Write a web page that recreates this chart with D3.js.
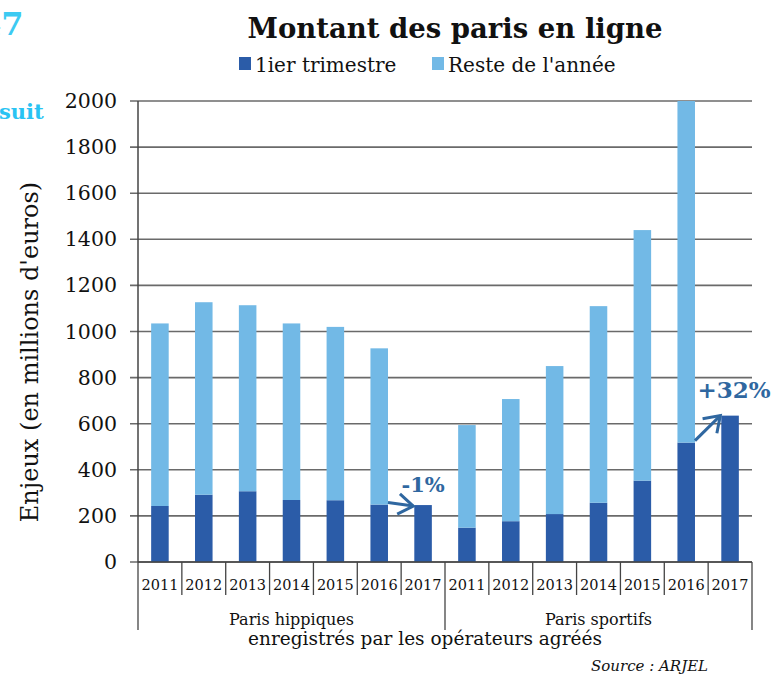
<!DOCTYPE html>
<html><head><meta charset="utf-8">
<script src="https://cdn.jsdelivr.net/npm/d3@7"></script>
<style>body{margin:0;background:#fff}svg{display:block}</style>
</head><body>
<svg id="c" width="771" height="674"></svg>
<script>
const groups = ["Paris hippiques", "Paris sportifs"];
const years = ["2011","2012","2013","2014","2015","2016","2017"];
const q1Hippiques   = [243, 292, 307, 269, 268, 249, 247];
const restHippiques = [792, 835, 807, 766, 752, 678, 0];
const q1Sportifs    = [149, 177, 208, 257, 353, 518, 635];
const restSportifs  = [445, 530, 642, 853, 1087, 1482, 0];
const yTicks = [0,200,400,600,800,1000,1200,1400,1600,1800,2000];
const seriesNames = ["1ier trimestre", "Reste de l'année"];
const annotations = [{group:"Paris hippiques", text:"-1%"}, {group:"Paris sportifs", text:"+32%"}];

const DARK = "#2b5ca8", LIGHT = "#72b9e6", ANN = "#2f67a0";
const FONT = "DejaVu Serif";

const rows = [];
groups.forEach((g, gi) => {
  const q = gi === 0 ? q1Hippiques : q1Sportifs;
  const r = gi === 0 ? restHippiques : restSportifs;
  years.forEach((y, i) => rows.push({key: g + "|" + y, group: g, year: y, q1: q[i], rest: r[i]}));
});

const svg = d3.select("#c");
const L = 138, R = 752, T = 101, B = 562;
const x = d3.scaleBand().domain(rows.map(d => d.key)).range([L, R]).paddingInner(0.6).paddingOuter(0.3);
const y = d3.scaleLinear().domain([0, 2000]).range([B, T]);

// gridlines
svg.append("g").selectAll("line").data(yTicks).join("line")
  .attr("x1", L - 8).attr("x2", R).attr("y1", d => y(d)).attr("y2", d => y(d))
  .attr("stroke", "#6a6a6a").attr("stroke-width", 1.6);

// y axis labels
svg.append("g").selectAll("text").data(yTicks).join("text")
  .attr("x", 117).attr("y", d => y(d) + 7).attr("text-anchor", "end")
  .attr("font-family", FONT).attr("font-size", 20.5).attr("fill", "#111").text(d => d);

// stacked bars
const stack = d3.stack().keys(["q1", "rest"])(rows);
const colors = [DARK, LIGHT];
stack.forEach((layer, li) => {
  svg.append("g").selectAll("rect").data(layer.filter(d => d[1] > d[0])).join("rect")
    .attr("x", d => x(d.data.key)).attr("width", x.bandwidth())
    .attr("y", d => y(d[1])).attr("height", d => y(d[0]) - y(d[1]))
    .attr("fill", colors[li]);
});

// axes lines
svg.append("line").attr("x1", L).attr("x2", L).attr("y1", T).attr("y2", B).attr("stroke", "#444").attr("stroke-width", 1.5);
svg.append("line").attr("x1", L).attr("x2", R).attr("y1", B).attr("y2", B).attr("stroke", "#444").attr("stroke-width", 1.6);

// category ticks
const step = x.step();
const bounds = d3.range(rows.length + 1).map(i => L + i * step);
svg.append("g").selectAll("line").data(bounds).join("line")
  .attr("x1", d => d).attr("x2", d => d).attr("y1", B)
  .attr("y2", (d, i) => (i % years.length === 0) ? 630 : 595)
  .attr("stroke", "#444").attr("stroke-width", 1.3);

// year labels
svg.append("g").selectAll("text").data(rows).join("text")
  .attr("x", d => x(d.key) + x.bandwidth() / 2).attr("y", 590).attr("text-anchor", "middle")
  .attr("font-family", FONT).attr("font-size", 14.5).attr("fill", "#111").text(d => d.year);

// group labels
svg.append("g").selectAll("text").data(groups).join("text")
  .attr("x", (d, i) => L + (i + 0.5) * years.length * step).attr("y", 625).attr("text-anchor", "middle")
  .attr("font-family", FONT).attr("font-size", 16).attr("fill", "#111").text(d => d);

svg.append("text").attr("x", 425).attr("y", 645).attr("text-anchor", "middle")
  .attr("font-family", FONT).attr("font-size", 18.5).attr("fill", "#111")
  .text("enregistrés par les opérateurs agréés");

// y label
svg.append("text").attr("transform", "translate(38,352) rotate(-90)").attr("text-anchor", "middle")
  .attr("font-family", FONT).attr("font-size", 24).attr("fill", "#111")
  .text("Enjeux (en millions d'euros)");

// title
svg.append("text").attr("x", 455).attr("y", 38).attr("text-anchor", "middle")
  .attr("font-family", FONT).attr("font-weight", "bold").attr("font-size", 27.5).attr("fill", "#111")
  .text("Montant des paris en ligne");

// legend
const legX = [239, 432];
seriesNames.forEach((n, i) => {
  svg.append("rect").attr("x", legX[i]).attr("y", 57).attr("width", 12).attr("height", 13).attr("fill", colors[i]);
  svg.append("text").attr("x", legX[i] + 16).attr("y", 72).attr("font-family", FONT).attr("font-size", 20)
    .attr("fill", "#111").text(n);
});

// annotations with arrows
annotations.forEach(a => {
  const r16 = rows.find(d => d.group === a.group && d.year === "2016");
  const r17 = rows.find(d => d.group === a.group && d.year === "2017");
  const x0 = x(r16.key) + x.bandwidth(), y0 = y(r16.q1) - 2;
  const x1 = x(r17.key) - 1, y1 = y(r17.q1) + (r17.q1 < r16.q1 ? 1 : 0);
  const ang = Math.atan2(y1 - y0, x1 - x0);
  const hl = 18, ha = 0.6;
  svg.append("line").attr("x1", x0).attr("y1", y0).attr("x2", x1).attr("y2", y1)
    .attr("stroke", ANN).attr("stroke-width", 3);
  svg.append("path")
    .attr("d", `M${x1 - hl * Math.cos(ang - ha)},${y1 - hl * Math.sin(ang - ha)}L${x1},${y1}L${x1 - hl * Math.cos(ang + ha)},${y1 - hl * Math.sin(ang + ha)}`)
    .attr("fill", "none").attr("stroke", ANN).attr("stroke-width", 3).attr("stroke-linejoin", "miter");
  const big = r17.q1 > r16.q1;
  svg.append("text").attr("x", x(r17.key) + x.bandwidth() / 2 + (big ? 4 : 0))
    .attr("y", big ? 398 : 492).attr("text-anchor", "middle")
    .attr("font-family", FONT).attr("font-weight", "bold").attr("font-size", big ? 23 : 21)
    .attr("fill", ANN).text(a.text);
});

// source
svg.append("text").attr("x", 591).attr("y", 671).attr("font-family", FONT).attr("font-style", "italic")
  .attr("font-size", 15).attr("fill", "#111").text("Source : ARJEL");

// cropped page remnants
svg.append("text").attr("x", -21).attr("y", 35).attr("font-family", FONT).attr("font-weight", "bold")
  .attr("font-size", 32).attr("fill", "#3ccaf2").text("47");
svg.append("text").attr("x", -1).attr("y", 119).attr("font-family", FONT).attr("font-weight", "bold")
  .attr("font-size", 21).attr("fill", "#29c3f3").text("suit");
</script>
</body></html>
